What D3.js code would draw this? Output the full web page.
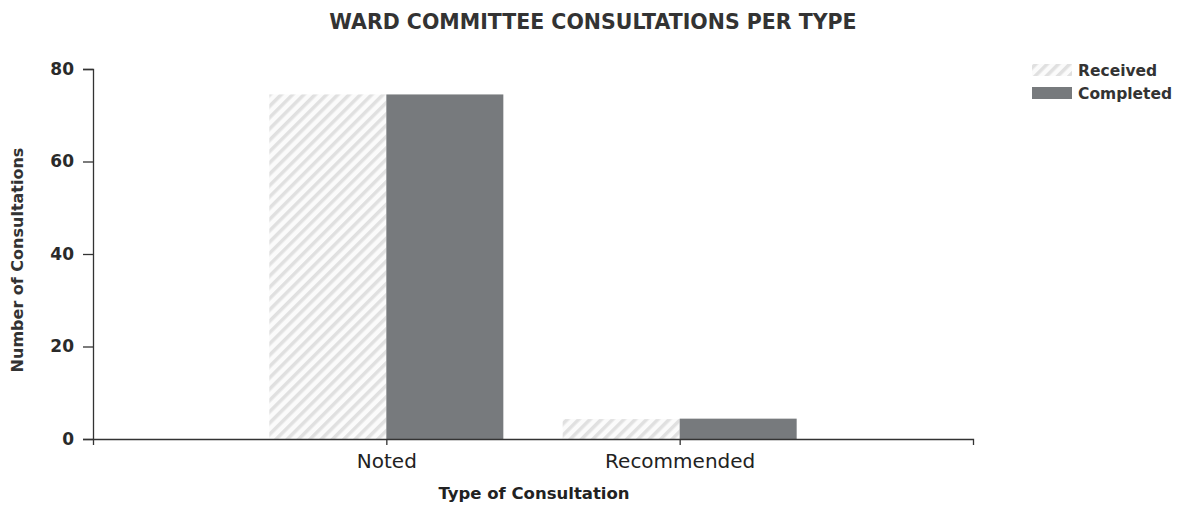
<!DOCTYPE html>
<html><head><meta charset="utf-8">
<script src="https://cdn.jsdelivr.net/npm/d3@7"></script>
<style>body{margin:0;background:#fff;} svg{display:block;font-family:"DejaVu Sans",Verdana,sans-serif;}</style>
</head><body>
<svg id="c" width="1184" height="505"></svg>
<script>
const categories = ["Noted", "Recommended"];
const seriesNames = ["Received", "Completed"];
const received = [74.5, 4.3];
const completed = [74.5, 4.4];
const yTicks = [0, 20, 40, 60, 80];

const svg = d3.select("#c");
const m = {left: 93, right: 973, top: 69, bottom: 439};
const F = "DejaVu Sans, Verdana, sans-serif";

const defs = svg.append("defs");
const pat = defs.append("pattern").attr("id","hatch").attr("patternUnits","userSpaceOnUse")
  .attr("width",8).attr("height",8).attr("patternTransform","rotate(45)");
pat.append("rect").attr("width",8).attr("height",8).attr("fill","#fbfbfb");
pat.append("rect").attr("width",3.5).attr("height",8).attr("fill","#e0e0e0");

const x = d3.scalePoint().domain(categories).range([m.left, m.right]).padding(1);
const y = d3.scaleLinear().domain([0, 80]).range([m.bottom, m.top]);
const barW = 117;
const colors = {Received: "url(#hatch)", Completed: "#777a7d"};
const series = [received, completed];

const g = svg.append("g");
categories.forEach((c, i) => {
  series.forEach((s, j) => {
    g.append("rect")
      .attr("x", x(c) - barW + j * barW)
      .attr("y", y(s[i]))
      .attr("width", barW)
      .attr("height", y(0) - y(s[i]))
      .attr("fill", colors[seriesNames[j]]);
  });
});

// y axis
const ya = svg.append("g").attr("transform", `translate(${m.left},0)`)
  .call(d3.axisLeft(y).tickValues(yTicks).tickSize(10).tickPadding(9));
ya.select(".domain").attr("stroke","#333").attr("stroke-width",1.3);
ya.selectAll(".tick line").attr("stroke","#333").attr("stroke-width",1.3);
ya.selectAll(".tick text").attr("font-size",17).attr("font-weight","bold").attr("fill","#2a2a2a")
  .attr("font-family",F);

// x axis
const xa = svg.append("g").attr("transform", `translate(0,${m.bottom})`)
  .call(d3.axisBottom(x).tickSize(6).tickSizeOuter(6).tickPadding(9));
xa.select(".domain").attr("stroke","#333").attr("stroke-width",1.3);
xa.selectAll(".tick line").attr("stroke","#333").attr("stroke-width",1.3);
xa.selectAll(".tick text").attr("font-size",20).attr("fill","#222")
  .attr("font-family",F);

// title
svg.append("text").attr("x", 593).attr("y", 29).attr("text-anchor","middle")
  .attr("font-size",20.5).attr("font-weight","bold").attr("fill","#333")
  .text("WARD COMMITTEE CONSULTATIONS PER TYPE");

// axis titles
svg.append("text").attr("x", 534).attr("y", 499).attr("text-anchor","middle")
  .attr("font-size",16.5).attr("font-weight","bold").attr("fill","#222")
  .text("Type of Consultation");
svg.append("text").attr("transform","translate(23,260) rotate(-90)").attr("text-anchor","middle")
  .attr("font-size",16).attr("font-weight","bold").attr("fill","#333")
  .text("Number of Consultations");

// legend
const lg = svg.append("g");
seriesNames.forEach((n, i) => {
  lg.append("rect").attr("x",1032).attr("y",64 + i*23).attr("width",40).attr("height",12)
    .attr("fill", colors[n]);
  lg.append("text").attr("x",1078).attr("y",76 + i*23).attr("font-size",15.5).attr("font-weight","bold")
    .attr("fill","#333").text(n);
});
</script>
</body></html>
